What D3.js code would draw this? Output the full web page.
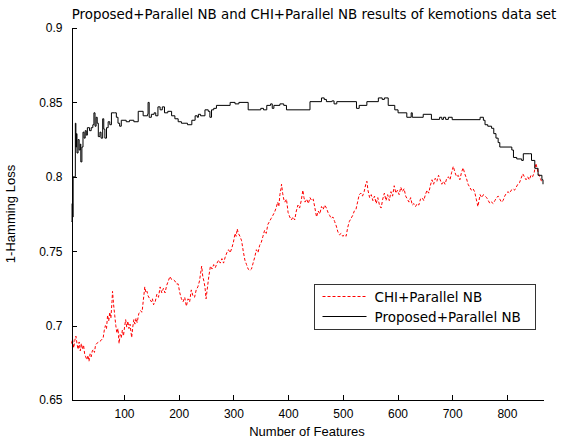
<!DOCTYPE html>
<html>
<head>
<meta charset="utf-8">
<script src="https://cdn.jsdelivr.net/npm/d3@7"></script>
<style>
  body { margin: 0; background: #fff; }
  .axis path, .axis line { stroke: #000; shape-rendering: crispEdges; }
  .axis text { font-family: "Liberation Sans", Arial, sans-serif; font-size: 12px; fill: #000; }
</style>
</head>
<body>
<div id="chart"></div>
<script>
// data: [number of features, 1-Hamming Loss]
var proposed = [[4,0.770],[5,0.782],[6,0.773],[7,0.800],[10,0.800],[11,0.836],[12,0.820],[13,0.829],[14,0.816],[16,0.825],[18,0.818],[20,0.822],[21,0.810],[23,0.820],[25,0.830],[27,0.826],[29,0.831],[31,0.828],[33,0.833],[37,0.831],[40,0.833],[43,0.835],[45,0.843],[47,0.834],[49,0.840],[51,0.836],[53,0.827],[56,0.830],[58,0.826],[61,0.839],[63,0.832],[65,0.826],[68,0.833],[71,0.837],[74,0.835],[77,0.843],[83,0.843],[86,0.840],[89,0.836],[92,0.834],[95,0.838],[104,0.837],[110,0.838],[118,0.837],[126,0.844],[135,0.841],[143,0.842],[144,0.850],[146,0.840],[150,0.842],[155,0.843],[158,0.841],[162,0.847],[166,0.845],[170,0.847],[174,0.843],[180,0.844],[187,0.841],[193,0.839],[199,0.837],[205,0.836],[216,0.835],[224,0.838],[230,0.841],[234,0.840],[236,0.842],[240,0.841],[248,0.845],[254,0.844],[257,0.840],[260,0.845],[264,0.846],[269,0.848],[294,0.850],[303,0.849],[310,0.850],[327,0.845],[350,0.846],[355,0.845],[361,0.848],[368,0.849],[371,0.846],[374,0.848],[385,0.849],[392,0.848],[397,0.845],[440,0.8505],[461,0.853],[466,0.852],[470,0.8505],[480,0.851],[484,0.849],[489,0.8505],[525,0.846],[530,0.848],[544,0.8505],[565,0.853],[572,0.852],[576,0.853],[583,0.848],[595,0.845],[601,0.843],[617,0.840],[625,0.843],[627,0.840],[647,0.842],[662,0.8386],[677,0.840],[681,0.8386],[684,0.840],[688,0.8386],[693,0.840],[700,0.8384],[751,0.840],[757,0.838],[760,0.835],[765,0.834],[772,0.8326],[776,0.829],[780,0.826],[784,0.823],[787,0.820],[809,0.818],[812,0.813],[818,0.812],[827,0.811],[830,0.8155],[842,0.8155],[845,0.811],[851,0.8057],[857,0.801],[864,0.798],[866,0.795]];

var chi = [[4,0.688],[6,0.691],[8,0.685],[10,0.690],[12,0.693],[14,0.688],[16,0.684],[18,0.689],[20,0.683],[22,0.688],[24,0.684],[26,0.687],[28,0.681],[30,0.679],[32,0.677],[34,0.680],[36,0.676],[38,0.681],[40,0.679],[42,0.683],[44,0.684],[46,0.682],[48,0.687],[50,0.688],[54,0.689],[58,0.690],[62,0.692],[64,0.697],[66,0.700],[68,0.698],[70,0.707],[72,0.703],[74,0.709],[76,0.705],[78,0.716],[79,0.723],[81,0.714],[83,0.707],[85,0.700],[87,0.695],[89,0.698],[91,0.688],[93,0.694],[95,0.692],[97,0.697],[99,0.693],[101,0.699],[103,0.704],[105,0.699],[107,0.703],[109,0.698],[111,0.701],[114,0.692],[116,0.699],[118,0.704],[120,0.701],[122,0.705],[124,0.702],[127,0.708],[130,0.710],[133,0.709],[135,0.716],[138,0.726],[140,0.722],[142,0.723],[144,0.720],[147,0.718],[150,0.716],[152,0.718],[154,0.714],[157,0.716],[160,0.721],[163,0.719],[166,0.726],[169,0.722],[172,0.725],[175,0.722],[178,0.727],[181,0.730],[184,0.733],[187,0.731],[190,0.731],[193,0.730],[196,0.728],[199,0.728],[202,0.722],[205,0.718],[208,0.716],[211,0.719],[214,0.713],[217,0.718],[220,0.716],[223,0.724],[226,0.720],[229,0.719],[232,0.724],[235,0.726],[238,0.730],[240,0.735],[242,0.740],[244,0.733],[246,0.730],[248,0.726],[250,0.718],[252,0.724],[255,0.733],[258,0.740],[261,0.738],[264,0.741],[267,0.739],[270,0.742],[273,0.744],[276,0.742],[279,0.745],[282,0.742],[285,0.746],[288,0.749],[291,0.751],[294,0.749],[297,0.752],[300,0.756],[303,0.762],[305,0.760],[307,0.765],[309,0.762],[312,0.760],[315,0.757],[318,0.750],[321,0.744],[324,0.741],[327,0.738],[330,0.737],[333,0.738],[336,0.742],[339,0.746],[342,0.751],[345,0.749],[348,0.754],[351,0.756],[354,0.760],[357,0.764],[360,0.762],[363,0.768],[366,0.770],[369,0.772],[372,0.774],[375,0.776],[378,0.779],[381,0.783],[383,0.780],[385,0.788],[387,0.792],[388,0.795],[390,0.789],[392,0.785],[394,0.783],[397,0.785],[400,0.776],[403,0.773],[406,0.771],[409,0.773],[412,0.771],[415,0.777],[418,0.781],[421,0.779],[424,0.784],[427,0.791],[429,0.786],[431,0.783],[434,0.785],[437,0.782],[440,0.786],[443,0.784],[446,0.785],[449,0.779],[452,0.773],[455,0.777],[458,0.775],[461,0.780],[464,0.778],[467,0.781],[470,0.779],[473,0.776],[476,0.774],[479,0.772],[482,0.773],[485,0.770],[488,0.767],[491,0.763],[494,0.761],[497,0.762],[500,0.760],[503,0.761],[506,0.760],[509,0.766],[512,0.770],[515,0.772],[518,0.774],[521,0.777],[524,0.778],[527,0.783],[530,0.788],[533,0.789],[536,0.787],[539,0.790],[542,0.795],[544,0.797],[546,0.791],[549,0.786],[552,0.788],[555,0.784],[558,0.787],[561,0.782],[564,0.786],[567,0.781],[570,0.779],[573,0.785],[576,0.789],[579,0.784],[582,0.788],[585,0.784],[588,0.790],[591,0.787],[594,0.794],[597,0.789],[600,0.791],[603,0.788],[606,0.793],[609,0.790],[612,0.792],[615,0.787],[618,0.785],[621,0.783],[624,0.786],[627,0.781],[630,0.782],[633,0.780],[636,0.782],[639,0.781],[642,0.785],[645,0.786],[648,0.784],[651,0.788],[654,0.791],[657,0.789],[660,0.794],[663,0.798],[666,0.795],[669,0.799],[672,0.797],[675,0.801],[678,0.798],[681,0.795],[684,0.797],[687,0.795],[690,0.799],[693,0.800],[696,0.798],[699,0.803],[702,0.807],[705,0.803],[708,0.800],[711,0.801],[714,0.798],[717,0.803],[720,0.806],[723,0.802],[726,0.799],[729,0.795],[732,0.793],[735,0.791],[738,0.792],[741,0.790],[744,0.785],[747,0.780],[749,0.784],[751,0.788],[754,0.786],[757,0.788],[760,0.787],[763,0.786],[766,0.784],[769,0.782],[772,0.783],[775,0.782],[778,0.784],[781,0.786],[784,0.787],[787,0.785],[790,0.783],[793,0.784],[796,0.787],[799,0.789],[802,0.790],[805,0.789],[808,0.791],[811,0.792],[814,0.791],[817,0.793],[820,0.795],[823,0.796],[826,0.799],[829,0.802],[832,0.800],[835,0.798],[838,0.800],[841,0.798],[844,0.801],[847,0.800],[850,0.803],[853,0.809],[855,0.806],[857,0.803],[859,0.801],[862,0.798],[865,0.796]];

var xTicks = [100,200,300,400,500,600,700,800];
var yTicks = [0.65,0.7,0.75,0.8,0.85,0.9];
var seriesNames = ["CHI+Parallel NB", "Proposed+Parallel NB"];

var W = 563, H = 439;
var margin = {top: 28, right: 20, bottom: 39, left: 71.5},
    width = 543 - margin.left,
    height = 400 - margin.top;

var svg = d3.select('#chart').append('svg')
            .attr('width', W)
            .attr('height', H);

var g = svg.append('g').attr('transform', 'translate(' + margin.left + ',' + margin.top + ')');

var x = d3.scaleLinear().domain([4, 866]).range([0, width]);
var y = d3.scaleLinear().domain([0.65, 0.9]).range([height, 0]);

var line = d3.line()
             .x(function(d){ return x(d[0]); })
             .y(function(d){ return y(d[1]); });

// red dashed CHI curve
g.append('path')
 .attr('d', line(chi))
 .attr('fill', 'none')
 .attr('stroke', '#ff0000')
 .attr('stroke-width', 1)
 .attr('stroke-dasharray', '3,2');

// black proposed curve (stepped)
g.append('path')
 .attr('d', line.curve(d3.curveStepAfter)(proposed))
 .attr('fill', 'none')
 .attr('stroke', '#000')
 .attr('stroke-width', 1);

// axes, ticks point inward
g.append('g').attr('class', 'axis')
 .attr('transform', 'translate(0,' + height + ')')
 .call(d3.axisBottom(x).tickValues(xTicks).tickSize(-5).tickSizeOuter(0).tickPadding(9));

g.append('g').attr('class', 'axis')
 .call(d3.axisLeft(y).tickValues(yTicks).tickFormat(d3.format('')).tickSize(-5).tickSizeOuter(0).tickPadding(9));

// title and labels
svg.append('text')
   .attr('x', 314).attr('y', 19)
   .attr('text-anchor', 'middle')
   .style('font-family', '"DejaVu Sans", sans-serif')
   .style('font-size', '13.4px')
   .text('Proposed+Parallel NB and CHI+Parallel NB results of kemotions data set');

svg.append('text')
   .attr('x', 307).attr('y', 436)
   .attr('text-anchor', 'middle')
   .style('font-family', '"Liberation Sans", Arial, sans-serif')
   .style('font-size', '13px')
   .text('Number of Features');

svg.append('text')
   .attr('transform', 'translate(15,214) rotate(-90)')
   .attr('text-anchor', 'middle')
   .style('font-family', '"Liberation Sans", Arial, sans-serif')
   .style('font-size', '13px')
   .text('1-Hamming Loss');

// legend
var legend = svg.append('g').attr('transform', 'translate(314.5,284.5)');
legend.append('rect')
      .attr('width', 221).attr('height', 45)
      .attr('fill', '#fff').attr('stroke', '#333');

seriesNames.forEach(function(name, i){
  var yy = 12 + i * 20;
  legend.append('line')
        .attr('x1', 8).attr('x2', 52)
        .attr('y1', yy).attr('y2', yy)
        .attr('stroke', i === 0 ? '#ff0000' : '#000')
        .attr('stroke-dasharray', i === 0 ? '3,2' : null);
  legend.append('text')
        .attr('x', 60).attr('y', yy + 5)
        .style('font-family', '"DejaVu Sans", sans-serif')
        .style('font-size', '13.5px')
        .text(name);
});
</script>
</body>
</html>
